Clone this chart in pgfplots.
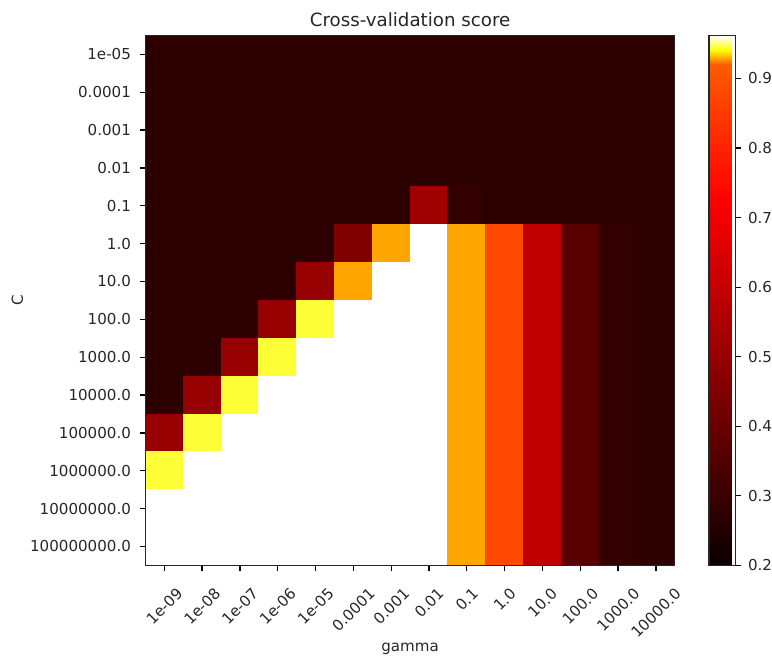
\documentclass[border=0pt]{standalone}
\usepackage{fontspec}
\setmainfont{DejaVu Sans}
\usepackage{graphicx}
\usepackage{pgfplots}
\pgfplotsset{compat=1.18}
\newcommand\rl[1]{\rotatebox{45}{#1}}
\begin{document}
\begin{tikzpicture}
\begin{axis}[
  name=main,
  scale only axis, width=336.8pt, height=337.2pt,
  xmin=-0.5, xmax=13.5, ymin=-0.5, ymax=13.5,
  y dir=reverse,
  axis on top,
  clip marker paths=true,
  axis line style={line width=0.7pt, black!85},
  colormap={cvhot}{rgb(0pt)=(0.0416,0,0) rgb(52.56pt)=(1,0,0) rgb(72pt)=(1,0.354,0) rgb(74.07pt)=(1,1,0) rgb(76.2pt)=(1,1,1)},
  point meta min=0.2, point meta max=0.962,
  xtick={0,...,13}, ytick={0,...,13},
  xticklabels={\rl{1e-09},\rl{1e-08},\rl{1e-07},\rl{1e-06},\rl{1e-05},\rl{0.0001},\rl{0.001},\rl{0.01},\rl{0.1},\rl{1.0},\rl{10.0},\rl{100.0},\rl{1000.0},\rl{10000.0}},
  yticklabels={1e-05,0.0001,0.001,0.01,0.1,1.0,10.0,100.0,1000.0,10000.0,100000.0,1000000.0,10000000.0,100000000.0},
  tick align=outside, tick pos=left, major tick length=3.5pt,
  major tick style={black, line width=0.8pt},
  every tick label/.append style={font=\fontsize{9.6}{11}\selectfont, text=black!85},
  xticklabel style={anchor=north, inner sep=0pt, yshift=-10pt},
  yticklabel style={anchor=east, inner sep=0pt, xshift=-5.5pt},
  title={Cross-validation score},
  title style={font=\fontsize{11.6}{13}\selectfont, at={(0.5,1)}, anchor=base, yshift=-0.5pt, inner sep=0pt, text=black!85},
  xlabel={gamma}, ylabel={C},
  label style={font=\fontsize{9.6}{11}\selectfont, text=black!85},
  xlabel style={at={(axis description cs:0.5,-0.162)}, anchor=base, inner sep=0pt},
  ylabel style={at={(axis description cs:-0.2306,0.5)}, anchor=south, inner sep=0pt},
  colorbar,
  colorbar shift/.style={xshift=17.2pt},
  colorbar style={
    width=16.9pt,
    axis line style={line width=0.7pt, black!85},
    ytick={0.2,0.3,0.4,0.5,0.6,0.7,0.8,0.9},
    yticklabels={0.2,0.3,0.4,0.5,0.6,0.7,0.8,0.9},
    tick align=outside, major tick length=3.5pt,
    ytick pos=right, yticklabel pos=right,
    major tick style={black, line width=0.8pt},
    yticklabel style={anchor=west, inner sep=0pt, xshift=4.2pt, font=\fontsize{9.6}{11}\selectfont, text=black!85},
  },
]
\addplot[scatter, only marks, mark=square*, mark size=12.1pt, point meta=explicit,
  scatter/use mapped color={draw=mapped color, fill=mapped color}] coordinates {
(0,0)[0.275] (1,0)[0.275] (2,0)[0.275] (3,0)[0.275] (4,0)[0.275] (5,0)[0.275] (6,0)[0.275] (7,0)[0.275] (8,0)[0.275] (9,0)[0.275] (10,0)[0.275] (11,0)[0.275] (12,0)[0.275] (13,0)[0.275]
(0,1)[0.275] (1,1)[0.275] (2,1)[0.275] (3,1)[0.275] (4,1)[0.275] (5,1)[0.275] (6,1)[0.275] (7,1)[0.275] (8,1)[0.275] (9,1)[0.275] (10,1)[0.275] (11,1)[0.275] (12,1)[0.275] (13,1)[0.275]
(0,2)[0.275] (1,2)[0.275] (2,2)[0.275] (3,2)[0.275] (4,2)[0.275] (5,2)[0.275] (6,2)[0.275] (7,2)[0.275] (8,2)[0.275] (9,2)[0.275] (10,2)[0.275] (11,2)[0.275] (12,2)[0.275] (13,2)[0.275]
(0,3)[0.275] (1,3)[0.275] (2,3)[0.275] (3,3)[0.275] (4,3)[0.275] (5,3)[0.275] (6,3)[0.275] (7,3)[0.275] (8,3)[0.275] (9,3)[0.275] (10,3)[0.275] (11,3)[0.275] (12,3)[0.275] (13,3)[0.275]
(0,4)[0.275] (1,4)[0.275] (2,4)[0.275] (3,4)[0.275] (4,4)[0.275] (5,4)[0.275] (6,4)[0.275] (7,4)[0.521] (8,4)[0.285] (9,4)[0.275] (10,4)[0.275] (11,4)[0.275] (12,4)[0.275] (13,4)[0.275]
(0,5)[0.275] (1,5)[0.275] (2,5)[0.275] (3,5)[0.275] (4,5)[0.275] (5,5)[0.452] (6,5)[0.9294] (7,5)[0.962] (8,5)[0.9294] (9,5)[0.880] (10,5)[0.589] (11,5)[0.366] (12,5)[0.285] (13,5)[0.275]
(0,6)[0.275] (1,6)[0.275] (2,6)[0.275] (3,6)[0.275] (4,6)[0.500] (5,6)[0.9294] (6,6)[0.962] (7,6)[0.962] (8,6)[0.9294] (9,6)[0.880] (10,6)[0.589] (11,6)[0.366] (12,6)[0.285] (13,6)[0.275]
(0,7)[0.275] (1,7)[0.275] (2,7)[0.275] (3,7)[0.500] (4,7)[0.9454] (5,7)[0.962] (6,7)[0.962] (7,7)[0.962] (8,7)[0.9294] (9,7)[0.880] (10,7)[0.589] (11,7)[0.366] (12,7)[0.285] (13,7)[0.275]
(0,8)[0.275] (1,8)[0.275] (2,8)[0.500] (3,8)[0.9454] (4,8)[0.962] (5,8)[0.962] (6,8)[0.962] (7,8)[0.962] (8,8)[0.9294] (9,8)[0.880] (10,8)[0.589] (11,8)[0.366] (12,8)[0.285] (13,8)[0.275]
(0,9)[0.275] (1,9)[0.500] (2,9)[0.9454] (3,9)[0.962] (4,9)[0.962] (5,9)[0.962] (6,9)[0.962] (7,9)[0.962] (8,9)[0.9294] (9,9)[0.880] (10,9)[0.589] (11,9)[0.366] (12,9)[0.285] (13,9)[0.275]
(0,10)[0.500] (1,10)[0.9454] (2,10)[0.962] (3,10)[0.962] (4,10)[0.962] (5,10)[0.962] (6,10)[0.962] (7,10)[0.962] (8,10)[0.9294] (9,10)[0.880] (10,10)[0.589] (11,10)[0.366] (12,10)[0.285] (13,10)[0.275]
(0,11)[0.9454] (1,11)[0.962] (2,11)[0.962] (3,11)[0.962] (4,11)[0.962] (5,11)[0.962] (6,11)[0.962] (7,11)[0.962] (8,11)[0.9294] (9,11)[0.880] (10,11)[0.589] (11,11)[0.366] (12,11)[0.285] (13,11)[0.275]
(0,12)[0.962] (1,12)[0.962] (2,12)[0.962] (3,12)[0.962] (4,12)[0.962] (5,12)[0.962] (6,12)[0.962] (7,12)[0.962] (8,12)[0.9294] (9,12)[0.880] (10,12)[0.589] (11,12)[0.366] (12,12)[0.285] (13,12)[0.275]
(0,13)[0.962] (1,13)[0.962] (2,13)[0.962] (3,13)[0.962] (4,13)[0.962] (5,13)[0.962] (6,13)[0.962] (7,13)[0.962] (8,13)[0.9294] (9,13)[0.880] (10,13)[0.589] (11,13)[0.366] (12,13)[0.285] (13,13)[0.275]
};
\end{axis}
\path ([shift={(-92.5pt,-57.6pt)}]main.south west) rectangle ([shift={(398.6pt,359.7pt)}]main.south west);
\end{tikzpicture}
\end{document}
